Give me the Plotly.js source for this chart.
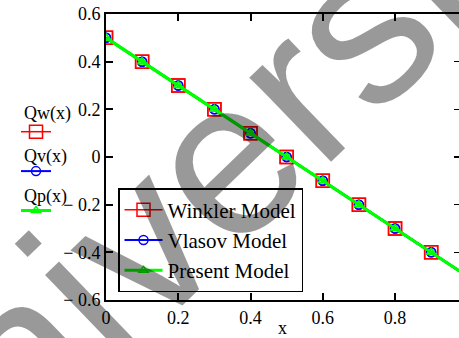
<!DOCTYPE html>
<html><head><meta charset="utf-8">
<script src="https://cdn.plot.ly/plotly-3.0.1.min.js"></script>
<style>html,body{margin:0;padding:0;background:#fff;}#chart{width:459px;height:338px;}</style>
</head><body><div id="chart"></div>
<script>
const xValues = [0, 0.1, 0.2, 0.3, 0.4, 0.5, 0.6, 0.7, 0.8, 0.9, 1.0];
const winklerQ = [0.5, 0.4, 0.3, 0.2, 0.1, 0, -0.1, -0.2, -0.3, -0.4, -0.5];
const vlasovQ = [0.5, 0.4, 0.3, 0.2, 0.1, 0, -0.1, -0.2, -0.3, -0.4, -0.5];
const presentQ = [0.5, 0.4, 0.3, 0.2, 0.1, 0, -0.1, -0.2, -0.3, -0.4, -0.5];
const seriesNames = ['Winkler Model', 'Vlasov Model', 'Present Model'];
const sideLabels = ['Qw(x)', 'Qv(x)', 'Qp(x)'];
const yTickValues = [0.6, 0.4, 0.2, 0, -0.2, -0.4, -0.6];
const yTickLabels = ['0.6', '0.4', '0.2', '0', '\u2212 0.2', '\u2212 0.4', '\u2212 0.6'];
const xTickValues = [0, 0.2, 0.4, 0.6, 0.8];
const xTickLabels = ['0', '0.2', '0.4', '0.6', '0.8'];
const xTitle = 'x';
const watermarkText = 'university';

const serif = '"Liberation Serif", "Times New Roman", Times, serif';
const styles = [
  {line: {color: '#ff0000', width: 1.5}, marker: {symbol: 'square-open', size: 13, color: '#ff0000', line: {width: 1.5, color: '#ff0000'}}},
  {line: {color: '#0000ff', width: 2}, marker: {symbol: 'circle-open', size: 9, color: '#0000ff', line: {width: 1.5, color: '#0000ff'}}},
  {line: {color: '#00ff00', width: 3}, marker: {symbol: 'triangle-up-open', size: 8, color: '#00ff00', line: {width: 1.5, color: '#00ff00'}}}
];
const seriesY = [winklerQ, vlasovQ, presentQ];

const traces = [];
seriesY.forEach((ys, i) => {
  traces.push({x: xValues, y: ys, type: 'scatter', mode: 'lines+markers', name: ' ',
    yaxis: 'y2', legend: 'legend2', line: styles[i].line, marker: styles[i].marker, hoverinfo: 'skip'});
});
seriesY.forEach((ys, i) => {
  traces.push({x: xValues, y: ys, type: 'scatter', mode: 'lines+markers', name: seriesNames[i],
    line: styles[i].line, marker: styles[i].marker});
});

const L = 106, R = 0, T = 14, B = 38, W = 459, H = 338;
const pw = W - L - R, ph = H - T - B;
const px = v => (v - L) / pw;
const py = v => (H - B - v) / ph;

const annotations = sideLabels.map((t, i) => ({
  text: t, xref: 'paper', yref: 'paper', x: px([47, 45, 45][i]), y: py([113, 156, 197][i]),
  xanchor: 'center', yanchor: 'middle', showarrow: false, font: {family: serif, size: 18, color: '#000'}
}));
annotations.push({
  text: watermarkText, xref: 'paper', yref: 'paper', x: px(222), y: py(160),
  xanchor: 'center', yanchor: 'middle', showarrow: false, textangle: -44,
  font: {family: '"Liberation Sans", Arial, sans-serif', size: 222, color: 'rgba(0,0,0,0.4)'}
});

const axisCommon = {ticks: 'inside', ticklen: 7, tickwidth: 2, tickcolor: '#000', showgrid: false, zeroline: false,
  showline: true, linecolor: '#000', linewidth: 2, tickfont: {family: serif, size: 18, color: '#000'}};

const layout = {
  width: W, height: H,
  margin: {l: L, r: R, t: T, b: B, pad: 0},
  paper_bgcolor: '#fff', plot_bgcolor: '#fff',
  font: {family: serif, size: 18, color: '#000'},
  xaxis: Object.assign({}, axisCommon, {range: [0, 0.977], tickmode: 'array', tickvals: xTickValues, ticktext: xTickLabels,
    mirror: 'ticks', title: {text: xTitle, standoff: 6, font: {family: serif, size: 18, color: '#000'}}}),
  yaxis: Object.assign({}, axisCommon, {range: [-0.6, 0.6], tickmode: 'array', tickvals: yTickValues, ticktext: yTickLabels, mirror: false}),
  yaxis2: {overlaying: 'y', side: 'right', range: [-0.6, 0.6], tickmode: 'array', tickvals: yTickValues,
    ticks: 'inside', ticklen: 5, tickwidth: 1.5, tickcolor: '#000', showticklabels: false, showline: false, showgrid: false, zeroline: false},
  legend: {x: px(118), y: py(188), xanchor: 'left', yanchor: 'top', bgcolor: '#fff', bordercolor: '#000', borderwidth: 1.5,
    itemwidth: 38, font: {family: serif, size: 21, color: '#000'}},
  legend2: {x: px(16), y: py(107), xanchor: 'left', yanchor: 'top', bgcolor: 'rgba(0,0,0,0)', borderwidth: 0,
    font: {family: serif, size: 28, color: '#000'}},
  annotations: annotations,
  showlegend: true
};

Plotly.newPlot('chart', traces, layout, {staticPlot: true, displayModeBar: false});
</script>
</body></html>
